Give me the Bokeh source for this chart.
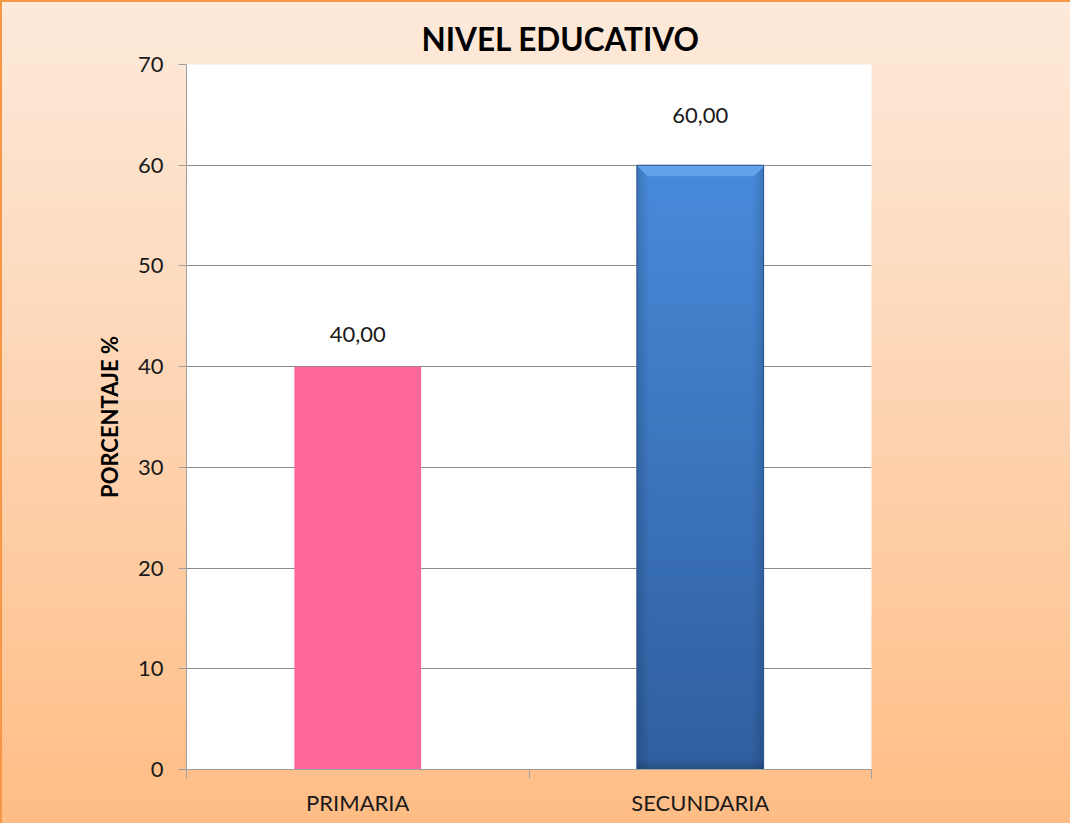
import numpy as np
from bokeh.plotting import figure
from bokeh.models import Range1d, FixedTicker, ColumnDataSource, Title
from bokeh.core.properties import value
from bokeh.embed import file_html
from bokeh.resources import INLINE

# ---- data ----
categories = ["PRIMARIA", "SECUNDARIA"]
percentages = [40.0, 60.0]
y_ticks = [0, 10, 20, 30, 40, 50, 60, 70]
title_text = "NIVEL EDUCATIVO"
y_label = "PORCENTAJE %"

# ---- styling ----
FONT = "Lato"
bar_colors = ["#FF6699", "#3C74C2"]
bar_width = 0.37
label_offsets = [-32, -50]

positions = [i + 0.5 for i in range(len(categories))]
labels = [f"{v:.2f}".replace(".", ",") for v in percentages]

p = figure(width=1070, height=823, output_backend="svg", toolbar_location=None,
           x_range=Range1d(0, len(categories)), y_range=Range1d(0, 70),
           min_border_left=186, min_border_right=199, min_border_top=64, min_border_bottom=54)
p.title = None
p.styles = {
    "background": "linear-gradient(to bottom, #FDEADB 0%, #FDD6B6 45%, #FFBD85 100%)",
    "box-shadow": "inset 2px 2px 0 0 #F79646",
}
p.border_fill_alpha = 0
p.background_fill_color = "white"
p.outline_line_color = None

src = ColumnDataSource(dict(x=positions, top=percentages, color=bar_colors,
                            label=labels, yoff=label_offsets))
p.vbar(x="x", top="top", width=bar_width, bottom=0, fill_color="color",
       line_color=None, source=src)

# bevel/gradient overlay for the second bar (approx. 1 px per cell)
H, W = 600, 126
rows = np.arange(H)[:, None]
cols = np.arange(W)[None, :]
t = (rows / (H - 1))[..., None]
bottom_c = np.array([0x30, 0x5F, 0x9F], dtype=float)
top_c = np.array([0x48, 0x8B, 0xDB], dtype=float)
rgb = bottom_c * (1 - t) + top_c * t
rgb = np.broadcast_to(rgb, (H, W, 3)).copy()
dist_side = np.minimum(cols, W - 1 - cols)
side = np.clip(dist_side / 12.0, 0, 1)[..., None]
rgb = rgb * (0.86 + 0.14 * side)
bot = np.clip(rows / 10.0, 0, 1)[..., None]
rgb = rgb * (0.85 + 0.15 * bot)
dist_top = (H - 1) - rows
topband = (dist_top < 11) & (dist_top <= dist_side)
light = np.array([0x62, 0xA3, 0xEE], dtype=float)
rgb = np.where(topband[..., None], light, rgb)
rgb = np.clip(rgb, 0, 255)
img = np.zeros((H, W), dtype=np.uint32)
view = img.view(dtype=np.uint8).reshape((H, W, 4))
view[..., 0] = rgb[..., 0].astype(np.uint8)
view[..., 1] = rgb[..., 1].astype(np.uint8)
view[..., 2] = rgb[..., 2].astype(np.uint8)
view[..., 3] = 255
p.image_rgba(image=[img], x=positions[1] - bar_width / 2, y=0,
             dw=bar_width, dh=percentages[1])
p.vbar(x=[positions[1]], top=[percentages[1]], width=bar_width, bottom=0,
       fill_color=None, line_color="#2C5388", line_width=1)

p.text(x="x", y="top", text="label", y_offset="yoff", source=src,
       text_align="center", text_baseline="middle",
       text_font=value(FONT), text_font_size="22px", text_color="#1A1A1A")

# axes
p.yaxis.ticker = FixedTicker(ticks=y_ticks)
p.yaxis.axis_label = y_label
p.yaxis.axis_label_text_font = FONT
p.yaxis.axis_label_text_font_style = "bold"
p.yaxis.axis_label_text_font_size = "22px"
p.yaxis.axis_label_text_color = "#000000"
p.yaxis.axis_label_standoff = 12
p.yaxis.major_label_text_font = FONT
p.yaxis.major_label_text_font_size = "22px"
p.yaxis.major_label_text_color = "#1A1A1A"
p.yaxis.major_label_standoff = 15
p.yaxis.major_tick_out = 8
p.yaxis.major_tick_in = 0
p.yaxis.minor_tick_line_color = None
p.yaxis.axis_line_color = "#A0A0A0"
p.yaxis.major_tick_line_color = "#A0A0A0"

p.xaxis.ticker = FixedTicker(ticks=positions, minor_ticks=list(range(len(categories) + 1)))
p.xaxis.major_label_overrides = {pos: c for pos, c in zip(positions, categories)}
p.xaxis.major_label_text_font = FONT
p.xaxis.major_label_text_font_size = "22px"
p.xaxis.major_label_text_color = "#1A1A1A"
p.xaxis.major_tick_line_color = None
p.xaxis.major_tick_out = 0
p.xaxis.major_tick_in = 0
p.xaxis.major_label_standoff = 10
p.xaxis.minor_tick_out = 9
p.xaxis.minor_tick_in = 0
p.xaxis.minor_tick_line_color = "#A0A0A0"
p.xaxis.axis_line_color = "#A0A0A0"

p.xgrid.grid_line_color = None
p.ygrid.ticker = FixedTicker(ticks=y_ticks)
p.ygrid.grid_line_color = "#8A8A8A"

p.add_layout(Title(text=title_text, align="left", offset=235, text_font=FONT,
                   text_font_size="31.5px", text_font_style="bold", text_color="#000000",
                   standoff=14), "above")

open("out.html", "w").write(file_html(p, INLINE))
